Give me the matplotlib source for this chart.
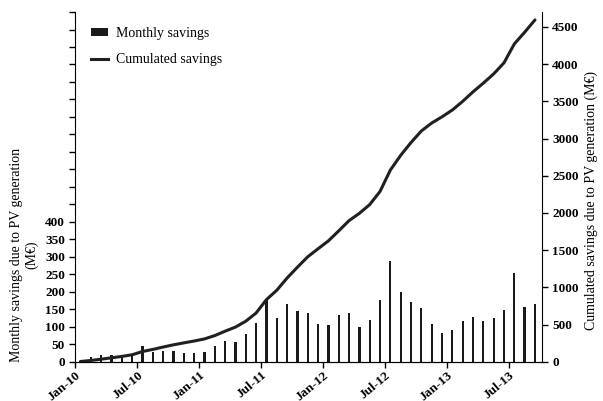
import numpy as np
import matplotlib
matplotlib.use('Agg')
import matplotlib.pyplot as plt
from matplotlib.ticker import FixedLocator, FuncFormatter
from matplotlib.patches import Patch
from matplotlib.lines import Line2D
import matplotlib.transforms as mtransforms

plt.rcParams['font.family'] = ['Liberation Serif', 'DejaVu Serif']

# monthly savings (M EUR), Jan-10 .. Sep-13
monthly_2010 = [3, 13, 18, 18, 19, 22, 44, 28, 32, 30, 26, 25]
monthly_2011 = [28, 45, 59, 55, 79, 110, 180, 126, 164, 146, 140, 108]
monthly_2012 = [106, 134, 138, 98, 118, 176, 288, 198, 172, 155, 107, 83]
monthly_2013 = [92, 116, 128, 117, 124, 149, 254, 157, 166]

tick_months = [0, 6, 12, 18, 24, 30, 36, 42]
tick_labels = ['Jan-10', 'Jul-10', 'Jan-11', 'Jul-11', 'Jan-12', 'Jul-12', 'Jan-13', 'Jul-13']

monthly = np.array(monthly_2010 + monthly_2011 + monthly_2012 + monthly_2013)
cumulated = np.cumsum(monthly)
x = np.arange(len(monthly)) + 0.5

fig = plt.figure(figsize=(6.03, 4.01), dpi=100)
ax = fig.add_axes([0.1249, 0.098, 0.7734, 0.872])
ax2 = ax.twinx()

ax.bar(x, monthly, width=0.22, color='#1a1a1a', zorder=2)
ax2.plot(x, cumulated, color='#231f20', lw=2.2, solid_capstyle='round')

ax.set_xlim(0, 45.15)
ax.set_ylim(0, 1000)
ax2.set_ylim(0, 4700)

# left axis: ticks all the way up, labels only to 400
ax.yaxis.set_major_locator(FixedLocator(np.arange(0, 1001, 50)))
ax.yaxis.set_major_formatter(FuncFormatter(lambda v, p: '%d' % v if v <= 400 else ''))
ax2.yaxis.set_major_locator(FixedLocator(np.arange(0, 4501, 500)))

ax.set_xticks(tick_months)
ax.set_xticklabels(tick_labels, rotation=40, ha='right', va='top', rotation_mode='anchor',
                   fontweight='bold', fontsize=9.5)
offset = mtransforms.ScaledTranslation(9 / 100, 0, fig.dpi_scale_trans)
for lab in ax.get_xticklabels():
    lab.set_transform(lab.get_transform() + offset)

for a in (ax, ax2):
    a.spines['top'].set_visible(False)
    a.tick_params(direction='out', length=4, width=1, colors='black')
    for lab in a.get_yticklabels():
        lab.set_fontweight('bold')
        lab.set_fontsize(9.5)
ax.tick_params(axis='x', pad=1.5)
ax2.spines['left'].set_visible(False)
ax.spines['right'].set_visible(False)

fig.text(0.040, 0.364, 'Monthly savings due to PV generation\n(M€)', rotation=90,
         ha='center', va='center', fontsize=10, linespacing=1.1)
fig.text(0.980, 0.501, 'Cumulated savings due to PV generation (M€)', rotation=90,
         ha='center', va='center', fontsize=10)

handles = [Patch(facecolor='#1a1a1a', edgecolor='none'),
           Line2D([], [], color='#231f20', lw=2.2)]
ax2.legend(handles, ['Monthly savings', 'Cumulated savings'], loc='upper left',
           bbox_to_anchor=(0.033, 0.958), frameon=False, fontsize=10,
           borderpad=0, borderaxespad=0, handlelength=1.25, handleheight=0.45,
           handletextpad=0.6, labelspacing=0.95)

fig.savefig('out.png', dpi=100)
